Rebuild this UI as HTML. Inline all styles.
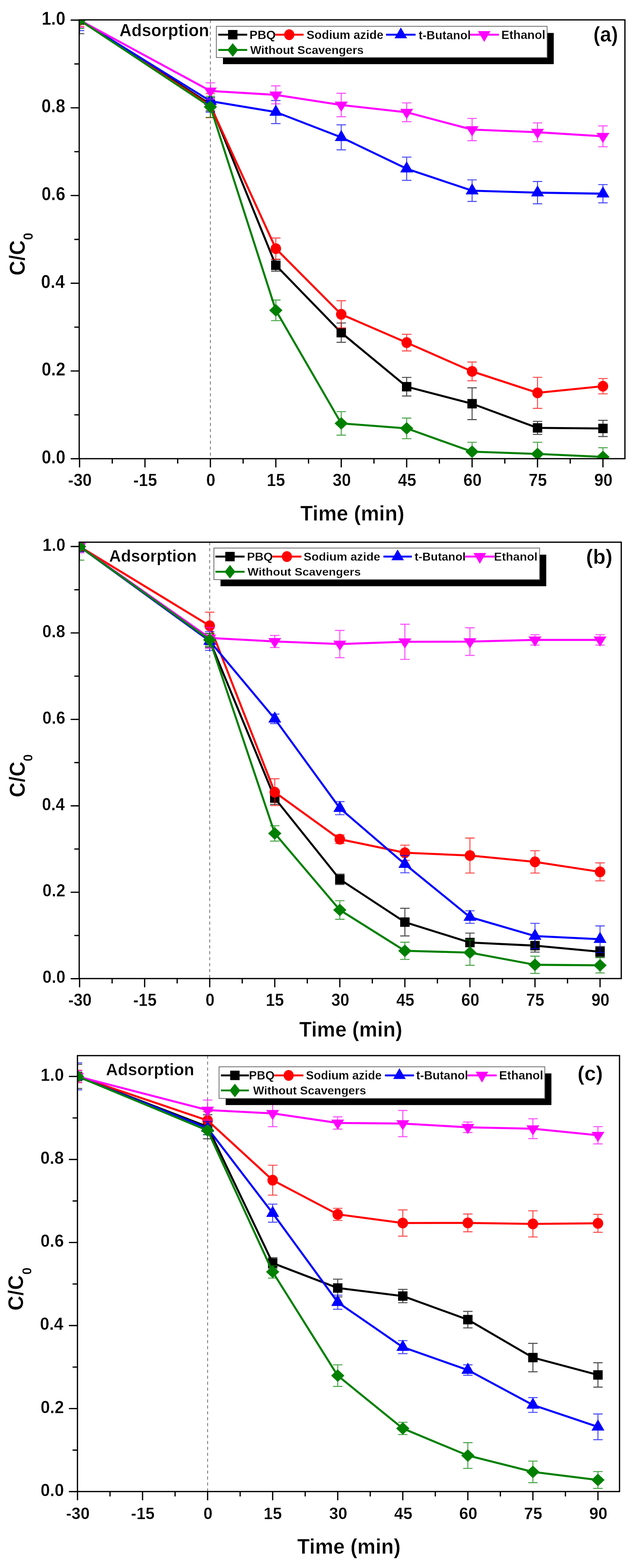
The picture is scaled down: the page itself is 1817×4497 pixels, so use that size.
<!DOCTYPE html><html><head><meta charset="utf-8"><style>html,body{margin:0;padding:0;background:#fff}svg{display:block}text{font-family:"Liberation Sans",Arial,sans-serif;font-weight:bold;fill:#000;stroke:#fff}</style></head><body>
<svg width="1817" height="4497" viewBox="0 0 1817 4497">
<rect width="1817" height="4497" fill="#fff"/>
<clipPath id="clipa"><rect x="227" y="57" width="1564" height="1258.5"/></clipPath>
<line x1="603" y1="57" x2="603" y2="1315.5" stroke="#6e6e6e" stroke-width="2.2" stroke-dasharray="9 8"/>
<g clip-path="url(#clipa)">
<polyline points="228,57.6 603,299.14 790.5,760.82 978,954.05 1165.5,1109.04 1353,1157.85 1540.5,1227.16 1728,1228.8" fill="none" stroke="#000000" stroke-width="5.8" stroke-linejoin="round"/>
<path d="M228,18.6V96.6M214.5,18.6H241.5M214.5,96.6H241.5" stroke="#000000" stroke-opacity="0.7" stroke-width="2.9" fill="none"/>
<path d="M603,280.27V318.01M589.5,280.27H616.5M589.5,318.01H616.5" stroke="#000000" stroke-opacity="0.7" stroke-width="2.9" fill="none"/>
<path d="M790.5,743.84V777.8M777,743.84H804M777,777.8H804" stroke="#000000" stroke-opacity="0.7" stroke-width="2.9" fill="none"/>
<path d="M978,926.37V981.73M964.5,926.37H991.5M964.5,981.73H991.5" stroke="#000000" stroke-opacity="0.7" stroke-width="2.9" fill="none"/>
<path d="M1165.5,1082.37V1135.71M1152,1082.37H1179M1152,1135.71H1179" stroke="#000000" stroke-opacity="0.7" stroke-width="2.9" fill="none"/>
<path d="M1353,1112.18V1203.51M1339.5,1112.18H1366.5M1339.5,1203.51H1366.5" stroke="#000000" stroke-opacity="0.7" stroke-width="2.9" fill="none"/>
<path d="M1540.5,1208.42V1245.91M1527,1208.42H1554M1527,1245.91H1554" stroke="#000000" stroke-opacity="0.7" stroke-width="2.9" fill="none"/>
<path d="M1728,1205.52V1252.07M1714.5,1205.52H1741.5M1714.5,1252.07H1741.5" stroke="#000000" stroke-opacity="0.7" stroke-width="2.9" fill="none"/>
<rect x="214.5" y="44.1" width="27" height="27" fill="#000000"/>
<rect x="589.5" y="285.64" width="27" height="27" fill="#000000"/>
<rect x="777" y="747.32" width="27" height="27" fill="#000000"/>
<rect x="964.5" y="940.55" width="27" height="27" fill="#000000"/>
<rect x="1152" y="1095.54" width="27" height="27" fill="#000000"/>
<rect x="1339.5" y="1144.35" width="27" height="27" fill="#000000"/>
<rect x="1527" y="1213.66" width="27" height="27" fill="#000000"/>
<rect x="1714.5" y="1215.3" width="27" height="27" fill="#000000"/>
<polyline points="228,57.6 603,302.91 790.5,713.14 978,901.47 1165.5,982.61 1353,1065.13 1540.5,1126.65 1728,1107.65" fill="none" stroke="#ff0000" stroke-width="5.8" stroke-linejoin="round"/>
<path d="M228,39.61V75.59M214.5,39.61H241.5M214.5,75.59H241.5" stroke="#ff0000" stroke-opacity="0.7" stroke-width="2.9" fill="none"/>
<path d="M603,268.31V337.5M589.5,268.31H616.5M589.5,337.5H616.5" stroke="#ff0000" stroke-opacity="0.7" stroke-width="2.9" fill="none"/>
<path d="M790.5,682.57V743.71M777,682.57H804M777,743.71H804" stroke="#ff0000" stroke-opacity="0.7" stroke-width="2.9" fill="none"/>
<path d="M978,862.47V940.46M964.5,862.47H991.5M964.5,940.46H991.5" stroke="#ff0000" stroke-opacity="0.7" stroke-width="2.9" fill="none"/>
<path d="M1165.5,958.71V1006.51M1152,958.71H1179M1152,1006.51H1179" stroke="#ff0000" stroke-opacity="0.7" stroke-width="2.9" fill="none"/>
<path d="M1353,1038.21V1092.05M1339.5,1038.21H1366.5M1339.5,1092.05H1366.5" stroke="#ff0000" stroke-opacity="0.7" stroke-width="2.9" fill="none"/>
<path d="M1540.5,1082.12V1171.18M1527,1082.12H1554M1527,1171.18H1554" stroke="#ff0000" stroke-opacity="0.7" stroke-width="2.9" fill="none"/>
<path d="M1728,1085.64V1129.67M1714.5,1085.64H1741.5M1714.5,1129.67H1741.5" stroke="#ff0000" stroke-opacity="0.7" stroke-width="2.9" fill="none"/>
<ellipse cx="228" cy="57.6" rx="15" ry="15.5" fill="#ff0000"/>
<ellipse cx="603" cy="302.91" rx="15" ry="15.5" fill="#ff0000"/>
<ellipse cx="790.5" cy="713.14" rx="15" ry="15.5" fill="#ff0000"/>
<ellipse cx="978" cy="901.47" rx="15" ry="15.5" fill="#ff0000"/>
<ellipse cx="1165.5" cy="982.61" rx="15" ry="15.5" fill="#ff0000"/>
<ellipse cx="1353" cy="1065.13" rx="15" ry="15.5" fill="#ff0000"/>
<ellipse cx="1540.5" cy="1126.65" rx="15" ry="15.5" fill="#ff0000"/>
<ellipse cx="1728" cy="1107.65" rx="15" ry="15.5" fill="#ff0000"/>
<polyline points="228,57.6 603,290.08 790.5,321.4 978,393.86 1165.5,483.94 1353,546.84 1540.5,552.5 1728,555.52" fill="none" stroke="#0000ff" stroke-width="5.8" stroke-linejoin="round"/>
<path d="M228,27.41V87.79M214.5,27.41H241.5M214.5,87.79H241.5" stroke="#0000ff" stroke-opacity="0.7" stroke-width="2.9" fill="none"/>
<path d="M603,258.38V321.78M589.5,258.38H616.5M589.5,321.78H616.5" stroke="#0000ff" stroke-opacity="0.7" stroke-width="2.9" fill="none"/>
<path d="M790.5,288.32V354.49M777,288.32H804M777,354.49H804" stroke="#0000ff" stroke-opacity="0.7" stroke-width="2.9" fill="none"/>
<path d="M978,358.01V429.72M964.5,358.01H991.5M964.5,429.72H991.5" stroke="#0000ff" stroke-opacity="0.7" stroke-width="2.9" fill="none"/>
<path d="M1165.5,450.6V517.27M1152,450.6H1179M1152,517.27H1179" stroke="#0000ff" stroke-opacity="0.7" stroke-width="2.9" fill="none"/>
<path d="M1353,515.89V577.78M1339.5,515.89H1366.5M1339.5,577.78H1366.5" stroke="#0000ff" stroke-opacity="0.7" stroke-width="2.9" fill="none"/>
<path d="M1540.5,520.54V584.45M1527,520.54H1554M1527,584.45H1554" stroke="#0000ff" stroke-opacity="0.7" stroke-width="2.9" fill="none"/>
<path d="M1728,529.35V581.68M1714.5,529.35H1741.5M1714.5,581.68H1741.5" stroke="#0000ff" stroke-opacity="0.7" stroke-width="2.9" fill="none"/>
<polygon points="209.5,68.27 246.5,68.27 228,36.27" fill="#0000ff"/>
<polygon points="584.5,300.75 621.5,300.75 603,268.75" fill="#0000ff"/>
<polygon points="772,332.07 809,332.07 790.5,300.07" fill="#0000ff"/>
<polygon points="959.5,404.53 996.5,404.53 978,372.53" fill="#0000ff"/>
<polygon points="1147,494.6 1184,494.6 1165.5,462.6" fill="#0000ff"/>
<polygon points="1334.5,557.5 1371.5,557.5 1353,525.5" fill="#0000ff"/>
<polygon points="1522,563.16 1559,563.16 1540.5,531.16" fill="#0000ff"/>
<polygon points="1709.5,566.18 1746.5,566.18 1728,534.18" fill="#0000ff"/>
<polyline points="228,57.6 603,260.89 790.5,272.09 978,301.15 1165.5,322.03 1353,371.6 1540.5,379.27 1728,390.97" fill="none" stroke="#ff00ff" stroke-width="5.8" stroke-linejoin="round"/>
<path d="M228,36.59V78.61M214.5,36.59H241.5M214.5,78.61H241.5" stroke="#ff00ff" stroke-opacity="0.7" stroke-width="2.9" fill="none"/>
<path d="M603,237.62V284.17M589.5,237.62H616.5M589.5,284.17H616.5" stroke="#ff00ff" stroke-opacity="0.7" stroke-width="2.9" fill="none"/>
<path d="M790.5,246.3V297.88M777,246.3H804M777,297.88H804" stroke="#ff00ff" stroke-opacity="0.7" stroke-width="2.9" fill="none"/>
<path d="M978,267.56V334.74M964.5,267.56H991.5M964.5,334.74H991.5" stroke="#ff00ff" stroke-opacity="0.7" stroke-width="2.9" fill="none"/>
<path d="M1165.5,295.11V348.95M1152,295.11H1179M1152,348.95H1179" stroke="#ff00ff" stroke-opacity="0.7" stroke-width="2.9" fill="none"/>
<path d="M1353,339.64V403.55M1339.5,339.64H1366.5M1339.5,403.55H1366.5" stroke="#ff00ff" stroke-opacity="0.7" stroke-width="2.9" fill="none"/>
<path d="M1540.5,352.35V406.19M1527,352.35H1554M1527,406.19H1554" stroke="#ff00ff" stroke-opacity="0.7" stroke-width="2.9" fill="none"/>
<path d="M1728,361.03V420.91M1714.5,361.03H1741.5M1714.5,420.91H1741.5" stroke="#ff00ff" stroke-opacity="0.7" stroke-width="2.9" fill="none"/>
<polygon points="209.5,47.93 246.5,47.93 228,76.93" fill="#ff00ff"/>
<polygon points="584.5,251.23 621.5,251.23 603,280.23" fill="#ff00ff"/>
<polygon points="772,262.42 809,262.42 790.5,291.42" fill="#ff00ff"/>
<polygon points="959.5,291.48 996.5,291.48 978,320.48" fill="#ff00ff"/>
<polygon points="1147,312.36 1184,312.36 1165.5,341.36" fill="#ff00ff"/>
<polygon points="1334.5,361.93 1371.5,361.93 1353,390.93" fill="#ff00ff"/>
<polygon points="1522,369.6 1559,369.6 1540.5,398.6" fill="#ff00ff"/>
<polygon points="1709.5,381.3 1746.5,381.3 1728,410.3" fill="#ff00ff"/>
<polyline points="228,57.6 603,306.43 790.5,890.02 978,1214.33 1165.5,1228.55 1353,1295.47 1540.5,1301.89 1728,1310.44" fill="none" stroke="#008000" stroke-width="5.8" stroke-linejoin="round"/>
<path d="M228,33.7V81.5M214.5,33.7H241.5M214.5,81.5H241.5" stroke="#008000" stroke-opacity="0.7" stroke-width="2.9" fill="none"/>
<path d="M603,276.24V336.62M589.5,276.24H616.5M589.5,336.62H616.5" stroke="#008000" stroke-opacity="0.7" stroke-width="2.9" fill="none"/>
<path d="M790.5,860.46V919.58M777,860.46H804M777,919.58H804" stroke="#008000" stroke-opacity="0.7" stroke-width="2.9" fill="none"/>
<path d="M978,1180.62V1248.05M964.5,1180.62H991.5M964.5,1248.05H991.5" stroke="#008000" stroke-opacity="0.7" stroke-width="2.9" fill="none"/>
<path d="M1165.5,1198.98V1258.11M1152,1198.98H1179M1152,1258.11H1179" stroke="#008000" stroke-opacity="0.7" stroke-width="2.9" fill="none"/>
<path d="M1353,1268.42V1322.52M1339.5,1268.42H1366.5M1339.5,1322.52H1366.5" stroke="#008000" stroke-opacity="0.7" stroke-width="2.9" fill="none"/>
<path d="M1540.5,1268.42V1335.35M1527,1268.42H1554M1527,1335.35H1554" stroke="#008000" stroke-opacity="0.7" stroke-width="2.9" fill="none"/>
<path d="M1728,1284.02V1336.86M1714.5,1284.02H1741.5M1714.5,1336.86H1741.5" stroke="#008000" stroke-opacity="0.7" stroke-width="2.9" fill="none"/>
<polygon points="209,57.6 228,39.6 247,57.6 228,75.6" fill="#008000"/>
<polygon points="584,306.43 603,288.43 622,306.43 603,324.43" fill="#008000"/>
<polygon points="771.5,890.02 790.5,872.02 809.5,890.02 790.5,908.02" fill="#008000"/>
<polygon points="959,1214.33 978,1196.33 997,1214.33 978,1232.33" fill="#008000"/>
<polygon points="1146.5,1228.55 1165.5,1210.55 1184.5,1228.55 1165.5,1246.55" fill="#008000"/>
<polygon points="1334,1295.47 1353,1277.47 1372,1295.47 1353,1313.47" fill="#008000"/>
<polygon points="1521.5,1301.89 1540.5,1283.89 1559.5,1301.89 1540.5,1319.89" fill="#008000"/>
<polygon points="1709,1310.44 1728,1292.44 1747,1310.44 1728,1328.44" fill="#008000"/>
</g>
<rect x="227" y="57" width="1564" height="1258.5" fill="none" stroke="#000" stroke-width="3.6"/>
<path d="M228,1315.5v25M321.75,1315.5v14M415.5,1315.5v25M509.25,1315.5v14M603,1315.5v25M696.75,1315.5v14M790.5,1315.5v25M884.25,1315.5v14M978,1315.5v25M1071.75,1315.5v14M1165.5,1315.5v25M1259.25,1315.5v14M1353,1315.5v25M1446.75,1315.5v14M1540.5,1315.5v25M1634.25,1315.5v14M1728,1315.5v25M227,1315.6h-24.5M227,1189.8h-14M227,1064h-24.5M227,938.2h-14M227,812.4h-24.5M227,686.6h-14M227,560.8h-24.5M227,435h-14M227,309.2h-24.5M227,183.4h-14M227,57.6h-24.5" stroke="#000" stroke-width="3.6" fill="none"/>
<g>
<text transform="translate(194.93,1393.6) scale(0.9300,1)" font-size="50.7" stroke-width="0.61">-30</text>
<text transform="translate(382.08,1393.6) scale(0.9300,1)" font-size="50.7" stroke-width="0.61">-15</text>
<text transform="translate(590.91,1393.6) scale(0.9300,1)" font-size="50.7" stroke-width="0.61">0</text>
<text transform="translate(764.5,1393.6) scale(0.9300,1)" font-size="50.7" stroke-width="0.61">15</text>
<text transform="translate(953.18,1393.6) scale(0.9300,1)" font-size="50.7" stroke-width="0.61">30</text>
<text transform="translate(1140.56,1393.6) scale(0.9300,1)" font-size="50.7" stroke-width="0.61">45</text>
<text transform="translate(1327.95,1393.6) scale(0.9300,1)" font-size="50.7" stroke-width="0.61">60</text>
<text transform="translate(1514.98,1393.6) scale(0.9300,1)" font-size="50.7" stroke-width="0.61">75</text>
<text transform="translate(1702.95,1393.6) scale(0.9300,1)" font-size="50.7" stroke-width="0.61">90</text>
<text transform="translate(119.19,1328.7) scale(0.9300,1)" font-size="52.82" stroke-width="0.63">0.0</text>
<text transform="translate(119.19,1077.1) scale(0.9300,1)" font-size="52.82" stroke-width="0.63">0.2</text>
<text transform="translate(117.47,825.5) scale(0.9300,1)" font-size="52.82" stroke-width="0.63">0.4</text>
<text transform="translate(118.94,573.9) scale(0.9300,1)" font-size="52.82" stroke-width="0.63">0.6</text>
<text transform="translate(118.7,322.3) scale(0.9300,1)" font-size="52.82" stroke-width="0.63">0.8</text>
<text transform="translate(119.19,70.7) scale(0.9300,1)" font-size="52.82" stroke-width="0.63">1.0</text>
</g>
<text transform="translate(342.19,104) scale(0.9698,1)" font-size="49.72" stroke-width="0.60">Adsorption</text>
<text transform="translate(1700.5,119) scale(0.9549,1)" font-size="60.69" stroke-width="0.73">(a)</text>
<text transform="translate(860.61,1492.5) scale(0.9605,1)" font-size="61.66" stroke-width="0.74">Time (min)</text>
<text transform="translate(70.7,790.36) rotate(-90) scale(0.9397,1)" font-size="62.76" stroke-width="0.75">C/C</text>
<text transform="translate(93.6,688.52) rotate(-90) scale(0.9972,1)" font-size="38" stroke-width="0.46">0</text>
<rect x="639" y="94.5" width="948" height="89.5" fill="#000"/>
<rect x="620" y="75.5" width="948" height="89.5" fill="#fff" stroke="#666" stroke-width="2.2"/>
<line x1="625.6" y1="99.5" x2="708.5" y2="99.5" stroke="#000000" stroke-width="5.4"/>
<rect x="653.55" y="86" width="27" height="27" fill="#000000"/>
<line x1="788" y1="99.5" x2="870" y2="99.5" stroke="#ff0000" stroke-width="5.4"/>
<ellipse cx="829" cy="99.5" rx="14.5" ry="15.5" fill="#ff0000"/>
<line x1="1106.4" y1="99.5" x2="1191" y2="99.5" stroke="#0000ff" stroke-width="5.4"/>
<polygon points="1130.7,109.83 1166.7,109.83 1148.7,78.83" fill="#0000ff"/>
<line x1="1345.6" y1="99.5" x2="1429.8" y2="99.5" stroke="#ff00ff" stroke-width="5.4"/>
<polygon points="1369.7,89.17 1405.7,89.17 1387.7,120.17" fill="#ff00ff"/>
<line x1="625.6" y1="143.2" x2="708.5" y2="143.2" stroke="#008000" stroke-width="5.4"/>
<polygon points="651.55,143.2 667.05,123.7 682.55,143.2 667.05,162.7" fill="#008000"/>
<text transform="translate(714.63,112) scale(0.9917,1)" font-size="35.2" stroke-width="0.42">PBQ</text>
<text transform="translate(878.58,112) scale(0.9704,1)" font-size="35.2" stroke-width="0.42">Sodium azide</text>
<text transform="translate(1199.66,112.5) scale(0.9577,1)" font-size="35.61" stroke-width="0.43">t-Butanol</text>
<text transform="translate(1436.66,112) scale(0.9682,1)" font-size="35.61" stroke-width="0.43">Ethanol</text>
<text transform="translate(716.9,154.5) scale(1.0109,1)" font-size="33.52" stroke-width="0.40">Without Scavengers</text>
<clipPath id="clipb"><rect x="227" y="1555" width="1553.5" height="1251.5"/></clipPath>
<line x1="601" y1="1555" x2="601" y2="2806.5" stroke="#6e6e6e" stroke-width="2.2" stroke-dasharray="9 8"/>
<g clip-path="url(#clipb)">
<polyline points="228.1,1567.4 601,1836.87 787.45,2289.04 973.9,2521.94 1160.35,2644.65 1346.8,2703.15 1533.25,2712.08 1719.7,2729.56" fill="none" stroke="#000000" stroke-width="5.8" stroke-linejoin="round"/>
<path d="M228.1,1552.53V1582.27M214.6,1552.53H241.6M214.6,1582.27H241.6" stroke="#000000" stroke-opacity="0.7" stroke-width="2.9" fill="none"/>
<path d="M601,1817.04V1856.7M587.5,1817.04H614.5M587.5,1856.7H614.5" stroke="#000000" stroke-opacity="0.7" stroke-width="2.9" fill="none"/>
<path d="M787.45,2271.06V2307.01M773.95,2271.06H800.95M773.95,2307.01H800.95" stroke="#000000" stroke-opacity="0.7" stroke-width="2.9" fill="none"/>
<path d="M973.9,2507.06V2536.81M960.4,2507.06H987.4M960.4,2536.81H987.4" stroke="#000000" stroke-opacity="0.7" stroke-width="2.9" fill="none"/>
<path d="M1160.35,2604.99V2684.31M1146.85,2604.99H1173.85M1146.85,2684.31H1173.85" stroke="#000000" stroke-opacity="0.7" stroke-width="2.9" fill="none"/>
<path d="M1346.8,2676.13V2730.17M1333.3,2676.13H1360.3M1333.3,2730.17H1360.3" stroke="#000000" stroke-opacity="0.7" stroke-width="2.9" fill="none"/>
<path d="M1533.25,2693.49V2730.67M1519.75,2693.49H1546.75M1519.75,2730.67H1546.75" stroke="#000000" stroke-opacity="0.7" stroke-width="2.9" fill="none"/>
<path d="M1719.7,2714.68V2744.43M1706.2,2714.68H1733.2M1706.2,2744.43H1733.2" stroke="#000000" stroke-opacity="0.7" stroke-width="2.9" fill="none"/>
<rect x="214.6" y="1553.9" width="27" height="27" fill="#000000"/>
<rect x="587.5" y="1823.37" width="27" height="27" fill="#000000"/>
<rect x="773.95" y="2275.54" width="27" height="27" fill="#000000"/>
<rect x="960.4" y="2508.44" width="27" height="27" fill="#000000"/>
<rect x="1146.85" y="2631.15" width="27" height="27" fill="#000000"/>
<rect x="1333.3" y="2689.65" width="27" height="27" fill="#000000"/>
<rect x="1519.75" y="2698.58" width="27" height="27" fill="#000000"/>
<rect x="1706.2" y="2716.06" width="27" height="27" fill="#000000"/>
<polyline points="228.1,1567.4 601,1794.72 787.45,2271.93 973.9,2406.79 1160.35,2445.71 1346.8,2453.64 1533.25,2471.86 1719.7,2500.5" fill="none" stroke="#ff0000" stroke-width="5.8" stroke-linejoin="round"/>
<path d="M228.1,1554.39V1580.41M214.6,1554.39H241.6M214.6,1580.41H241.6" stroke="#ff0000" stroke-opacity="0.7" stroke-width="2.9" fill="none"/>
<path d="M601,1755.68V1833.77M587.5,1755.68H614.5M587.5,1833.77H614.5" stroke="#ff0000" stroke-opacity="0.7" stroke-width="2.9" fill="none"/>
<path d="M787.45,2233.51V2310.36M773.95,2233.51H800.95M773.95,2310.36H800.95" stroke="#ff0000" stroke-opacity="0.7" stroke-width="2.9" fill="none"/>
<path d="M973.9,2394.39V2419.18M960.4,2394.39H987.4M960.4,2419.18H987.4" stroke="#ff0000" stroke-opacity="0.7" stroke-width="2.9" fill="none"/>
<path d="M1160.35,2423.89V2467.52M1146.85,2423.89H1173.85M1146.85,2467.52H1173.85" stroke="#ff0000" stroke-opacity="0.7" stroke-width="2.9" fill="none"/>
<path d="M1346.8,2403.44V2503.84M1333.3,2403.44H1360.3M1333.3,2503.84H1360.3" stroke="#ff0000" stroke-opacity="0.7" stroke-width="2.9" fill="none"/>
<path d="M1533.25,2439.88V2503.84M1519.75,2439.88H1546.75M1519.75,2503.84H1546.75" stroke="#ff0000" stroke-opacity="0.7" stroke-width="2.9" fill="none"/>
<path d="M1719.7,2474.71V2526.28M1706.2,2474.71H1733.2M1706.2,2526.28H1733.2" stroke="#ff0000" stroke-opacity="0.7" stroke-width="2.9" fill="none"/>
<ellipse cx="228.1" cy="1567.4" rx="15" ry="15.5" fill="#ff0000"/>
<ellipse cx="601" cy="1794.72" rx="15" ry="15.5" fill="#ff0000"/>
<ellipse cx="787.45" cy="2271.93" rx="15" ry="15.5" fill="#ff0000"/>
<ellipse cx="973.9" cy="2406.79" rx="15" ry="15.5" fill="#ff0000"/>
<ellipse cx="1160.35" cy="2445.71" rx="15" ry="15.5" fill="#ff0000"/>
<ellipse cx="1346.8" cy="2453.64" rx="15" ry="15.5" fill="#ff0000"/>
<ellipse cx="1533.25" cy="2471.86" rx="15" ry="15.5" fill="#ff0000"/>
<ellipse cx="1719.7" cy="2500.5" rx="15" ry="15.5" fill="#ff0000"/>
<polyline points="228.1,1567.4 601,1838.48 787.45,2061.59 973.9,2317.79 1160.35,2478.31 1346.8,2630.15 1533.25,2684.56 1719.7,2693.61" fill="none" stroke="#0000ff" stroke-width="5.8" stroke-linejoin="round"/>
<path d="M228.1,1552.53V1582.27M214.6,1552.53H241.6M214.6,1582.27H241.6" stroke="#0000ff" stroke-opacity="0.7" stroke-width="2.9" fill="none"/>
<path d="M601,1811.58V1865.38M587.5,1811.58H614.5M587.5,1865.38H614.5" stroke="#0000ff" stroke-opacity="0.7" stroke-width="2.9" fill="none"/>
<path d="M787.45,2047.95V2075.22M773.95,2047.95H800.95M773.95,2075.22H800.95" stroke="#0000ff" stroke-opacity="0.7" stroke-width="2.9" fill="none"/>
<path d="M973.9,2298.95V2336.63M960.4,2298.95H987.4M960.4,2336.63H987.4" stroke="#0000ff" stroke-opacity="0.7" stroke-width="2.9" fill="none"/>
<path d="M1160.35,2453.52V2503.1M1146.85,2453.52H1173.85M1146.85,2503.1H1173.85" stroke="#0000ff" stroke-opacity="0.7" stroke-width="2.9" fill="none"/>
<path d="M1346.8,2612.17V2648.12M1333.3,2612.17H1360.3M1333.3,2648.12H1360.3" stroke="#0000ff" stroke-opacity="0.7" stroke-width="2.9" fill="none"/>
<path d="M1533.25,2648.12V2721M1519.75,2648.12H1546.75M1519.75,2721H1546.75" stroke="#0000ff" stroke-opacity="0.7" stroke-width="2.9" fill="none"/>
<path d="M1719.7,2655.56V2731.66M1706.2,2655.56H1733.2M1706.2,2731.66H1733.2" stroke="#0000ff" stroke-opacity="0.7" stroke-width="2.9" fill="none"/>
<polygon points="209.6,1578.07 246.6,1578.07 228.1,1546.07" fill="#0000ff"/>
<polygon points="582.5,1849.15 619.5,1849.15 601,1817.15" fill="#0000ff"/>
<polygon points="768.95,2072.26 805.95,2072.26 787.45,2040.26" fill="#0000ff"/>
<polygon points="955.4,2328.46 992.4,2328.46 973.9,2296.46" fill="#0000ff"/>
<polygon points="1141.85,2488.98 1178.85,2488.98 1160.35,2456.98" fill="#0000ff"/>
<polygon points="1328.3,2640.81 1365.3,2640.81 1346.8,2608.81" fill="#0000ff"/>
<polygon points="1514.75,2695.23 1551.75,2695.23 1533.25,2663.23" fill="#0000ff"/>
<polygon points="1701.2,2704.28 1738.2,2704.28 1719.7,2672.28" fill="#0000ff"/>
<polyline points="228.1,1567.4 601,1829.68 787.45,1839.72 973.9,1847.16 1160.35,1840.71 1346.8,1840.09 1533.25,1835.26 1719.7,1835.26" fill="none" stroke="#ff00ff" stroke-width="5.8" stroke-linejoin="round"/>
<path d="M228.1,1549.06V1585.74M214.6,1549.06H241.6M214.6,1585.74H241.6" stroke="#ff00ff" stroke-opacity="0.7" stroke-width="2.9" fill="none"/>
<path d="M601,1799.68V1859.67M587.5,1799.68H614.5M587.5,1859.67H614.5" stroke="#ff00ff" stroke-opacity="0.7" stroke-width="2.9" fill="none"/>
<path d="M787.45,1822.37V1857.07M773.95,1822.37H800.95M773.95,1857.07H800.95" stroke="#ff00ff" stroke-opacity="0.7" stroke-width="2.9" fill="none"/>
<path d="M973.9,1807.99V1886.32M960.4,1807.99H987.4M960.4,1886.32H987.4" stroke="#ff00ff" stroke-opacity="0.7" stroke-width="2.9" fill="none"/>
<path d="M1160.35,1790.26V1891.16M1146.85,1790.26H1173.85M1146.85,1891.16H1173.85" stroke="#ff00ff" stroke-opacity="0.7" stroke-width="2.9" fill="none"/>
<path d="M1346.8,1800.43V1879.75M1333.3,1800.43H1360.3M1333.3,1879.75H1360.3" stroke="#ff00ff" stroke-opacity="0.7" stroke-width="2.9" fill="none"/>
<path d="M1533.25,1820.38V1850.13M1519.75,1820.38H1546.75M1519.75,1850.13H1546.75" stroke="#ff00ff" stroke-opacity="0.7" stroke-width="2.9" fill="none"/>
<path d="M1719.7,1820.38V1850.13M1706.2,1820.38H1733.2M1706.2,1850.13H1733.2" stroke="#ff00ff" stroke-opacity="0.7" stroke-width="2.9" fill="none"/>
<polygon points="209.6,1557.73 246.6,1557.73 228.1,1586.73" fill="#ff00ff"/>
<polygon points="582.5,1820.01 619.5,1820.01 601,1849.01" fill="#ff00ff"/>
<polygon points="768.95,1830.05 805.95,1830.05 787.45,1859.05" fill="#ff00ff"/>
<polygon points="955.4,1837.49 992.4,1837.49 973.9,1866.49" fill="#ff00ff"/>
<polygon points="1141.85,1831.04 1178.85,1831.04 1160.35,1860.04" fill="#ff00ff"/>
<polygon points="1328.3,1830.42 1365.3,1830.42 1346.8,1859.42" fill="#ff00ff"/>
<polygon points="1514.75,1825.59 1551.75,1825.59 1533.25,1854.59" fill="#ff00ff"/>
<polygon points="1701.2,1825.59 1738.2,1825.59 1719.7,1854.59" fill="#ff00ff"/>
<polyline points="228.1,1567.4 601,1835.13 787.45,2390.18 973.9,2609.82 1160.35,2726.95 1346.8,2732.03 1533.25,2766.99 1719.7,2768.48" fill="none" stroke="#008000" stroke-width="5.8" stroke-linejoin="round"/>
<path d="M228.1,1528.36V1606.44M214.6,1528.36H241.6M214.6,1606.44H241.6" stroke="#008000" stroke-opacity="0.7" stroke-width="2.9" fill="none"/>
<path d="M601,1816.79V1853.48M587.5,1816.79H614.5M587.5,1853.48H614.5" stroke="#008000" stroke-opacity="0.7" stroke-width="2.9" fill="none"/>
<path d="M787.45,2368.12V2412.24M773.95,2368.12H800.95M773.95,2412.24H800.95" stroke="#008000" stroke-opacity="0.7" stroke-width="2.9" fill="none"/>
<path d="M973.9,2583.17V2636.47M960.4,2583.17H987.4M960.4,2636.47H987.4" stroke="#008000" stroke-opacity="0.7" stroke-width="2.9" fill="none"/>
<path d="M1160.35,2702.29V2751.62M1146.85,2702.29H1173.85M1146.85,2751.62H1173.85" stroke="#008000" stroke-opacity="0.7" stroke-width="2.9" fill="none"/>
<path d="M1346.8,2695.59V2768.48M1333.3,2695.59H1360.3M1333.3,2768.48H1360.3" stroke="#008000" stroke-opacity="0.7" stroke-width="2.9" fill="none"/>
<path d="M1533.25,2742.2V2791.78M1519.75,2742.2H1546.75M1519.75,2791.78H1546.75" stroke="#008000" stroke-opacity="0.7" stroke-width="2.9" fill="none"/>
<path d="M1719.7,2746.54V2790.41M1706.2,2746.54H1733.2M1706.2,2790.41H1733.2" stroke="#008000" stroke-opacity="0.7" stroke-width="2.9" fill="none"/>
<polygon points="209.1,1567.4 228.1,1549.4 247.1,1567.4 228.1,1585.4" fill="#008000"/>
<polygon points="582,1835.13 601,1817.13 620,1835.13 601,1853.13" fill="#008000"/>
<polygon points="768.45,2390.18 787.45,2372.18 806.45,2390.18 787.45,2408.18" fill="#008000"/>
<polygon points="954.9,2609.82 973.9,2591.82 992.9,2609.82 973.9,2627.82" fill="#008000"/>
<polygon points="1141.35,2726.95 1160.35,2708.95 1179.35,2726.95 1160.35,2744.95" fill="#008000"/>
<polygon points="1327.8,2732.03 1346.8,2714.03 1365.8,2732.03 1346.8,2750.03" fill="#008000"/>
<polygon points="1514.25,2766.99 1533.25,2748.99 1552.25,2766.99 1533.25,2784.99" fill="#008000"/>
<polygon points="1700.7,2768.48 1719.7,2750.48 1738.7,2768.48 1719.7,2786.48" fill="#008000"/>
</g>
<rect x="227" y="1555" width="1553.5" height="1251.5" fill="none" stroke="#000" stroke-width="3.6"/>
<path d="M228.1,2806.5v25M321.32,2806.5v14M414.55,2806.5v25M507.77,2806.5v14M601,2806.5v25M694.23,2806.5v14M787.45,2806.5v25M880.67,2806.5v14M973.9,2806.5v25M1067.12,2806.5v14M1160.35,2806.5v25M1253.57,2806.5v14M1346.8,2806.5v25M1440.03,2806.5v14M1533.25,2806.5v25M1626.47,2806.5v14M1719.7,2806.5v25M227,2806.9h-24.5M227,2682.95h-14M227,2559h-24.5M227,2435.05h-14M227,2311.1h-24.5M227,2187.15h-14M227,2063.2h-24.5M227,1939.25h-14M227,1815.3h-24.5M227,1691.35h-14M227,1567.4h-24.5" stroke="#000" stroke-width="3.6" fill="none"/>
<g>
<text transform="translate(195.5,2885) scale(0.9300,1)" font-size="50" stroke-width="0.60">-30</text>
<text transform="translate(381.61,2885) scale(0.9300,1)" font-size="50" stroke-width="0.60">-15</text>
<text transform="translate(589.1,2885) scale(0.9300,1)" font-size="50" stroke-width="0.60">0</text>
<text transform="translate(761.83,2885) scale(0.9300,1)" font-size="50" stroke-width="0.60">15</text>
<text transform="translate(949.44,2885) scale(0.9300,1)" font-size="50" stroke-width="0.60">30</text>
<text transform="translate(1135.77,2885) scale(0.9300,1)" font-size="50" stroke-width="0.60">45</text>
<text transform="translate(1322.11,2885) scale(0.9300,1)" font-size="50" stroke-width="0.60">60</text>
<text transform="translate(1508.09,2885) scale(0.9300,1)" font-size="50" stroke-width="0.60">75</text>
<text transform="translate(1695.01,2885) scale(0.9300,1)" font-size="50" stroke-width="0.60">90</text>
<text transform="translate(121.84,2819.3) scale(0.9300,1)" font-size="50.7" stroke-width="0.61">0.0</text>
<text transform="translate(121.84,2571.4) scale(0.9300,1)" font-size="50.7" stroke-width="0.61">0.2</text>
<text transform="translate(120.19,2323.5) scale(0.9300,1)" font-size="50.7" stroke-width="0.61">0.4</text>
<text transform="translate(121.61,2075.6) scale(0.9300,1)" font-size="50.7" stroke-width="0.61">0.6</text>
<text transform="translate(121.37,1827.7) scale(0.9300,1)" font-size="50.7" stroke-width="0.61">0.8</text>
<text transform="translate(121.84,1579.8) scale(0.9300,1)" font-size="50.7" stroke-width="0.61">1.0</text>
</g>
<text transform="translate(312.82,1610.6) scale(0.9769,1)" font-size="48.18" stroke-width="0.58">Adsorption</text>
<text transform="translate(1679.53,1616.6) scale(0.9924,1)" font-size="59.86" stroke-width="0.72">(b)</text>
<text transform="translate(857.41,2972.6) scale(0.9499,1)" font-size="61.79" stroke-width="0.74">Time (min)</text>
<text transform="translate(70.7,2286.69) rotate(-90) scale(0.9503,1)" font-size="62.76" stroke-width="0.75">C/C</text>
<text transform="translate(93.3,2183.46) rotate(-90) scale(0.9959,1)" font-size="36.57" stroke-width="0.44">0</text>
<rect x="632" y="1590.8" width="933.5" height="90.5" fill="#000"/>
<rect x="613" y="1571.8" width="933.5" height="90.5" fill="#fff" stroke="#666" stroke-width="2.2"/>
<line x1="617.3" y1="1596.3" x2="700.9" y2="1596.3" stroke="#000000" stroke-width="5.4"/>
<rect x="645.6" y="1582.8" width="27" height="27" fill="#000000"/>
<line x1="780.6" y1="1596.3" x2="863.8" y2="1596.3" stroke="#ff0000" stroke-width="5.4"/>
<ellipse cx="822.2" cy="1596.3" rx="14.5" ry="15.5" fill="#ff0000"/>
<line x1="1098.9" y1="1596.3" x2="1180.3" y2="1596.3" stroke="#0000ff" stroke-width="5.4"/>
<polygon points="1121.6,1606.63 1157.6,1606.63 1139.6,1575.63" fill="#0000ff"/>
<line x1="1332.3" y1="1596.3" x2="1417.9" y2="1596.3" stroke="#ff00ff" stroke-width="5.4"/>
<polygon points="1357.1,1585.97 1393.1,1585.97 1375.1,1616.97" fill="#ff00ff"/>
<line x1="617.3" y1="1639.8" x2="700.9" y2="1639.8" stroke="#008000" stroke-width="5.4"/>
<polygon points="643.6,1639.8 659.1,1620.3 674.6,1639.8 659.1,1659.3" fill="#008000"/>
<text transform="translate(707.77,1608.4) scale(1.0442,1)" font-size="32.82" stroke-width="0.39">PBQ</text>
<text transform="translate(869.98,1608.4) scale(1.0387,1)" font-size="32.82" stroke-width="0.39">Sodium azide</text>
<text transform="translate(1188.27,1608.4) scale(1.0158,1)" font-size="32.82" stroke-width="0.39">t-Butanol</text>
<text transform="translate(1415.79,1608.4) scale(1.0360,1)" font-size="32.82" stroke-width="0.39">Ethanol</text>
<text transform="translate(709.3,1650.5) scale(1.0575,1)" font-size="31.98" stroke-width="0.38">Without Scavengers</text>
<clipPath id="clipc"><rect x="222" y="3027.5" width="1553.5" height="1250.1999999999998"/></clipPath>
<line x1="595" y1="3027.5" x2="595" y2="4277.7" stroke="#6e6e6e" stroke-width="2.2" stroke-dasharray="9 8"/>
<g clip-path="url(#clipc)">
<polyline points="222.1,3087.2 595,3231.51 781.45,3622.42 967.9,3693.98 1154.35,3717.08 1340.8,3784.71 1527.25,3893.54 1713.7,3943.31" fill="none" stroke="#000000" stroke-width="5.8" stroke-linejoin="round"/>
<path d="M222.1,3052.67V3121.73M208.6,3052.67H235.6M208.6,3121.73H235.6" stroke="#000000" stroke-opacity="0.7" stroke-width="2.9" fill="none"/>
<path d="M595,3196.98V3266.04M581.5,3196.98H608.5M581.5,3266.04H608.5" stroke="#000000" stroke-opacity="0.7" stroke-width="2.9" fill="none"/>
<path d="M781.45,3606.94V3637.9M767.95,3606.94H794.95M767.95,3637.9H794.95" stroke="#000000" stroke-opacity="0.7" stroke-width="2.9" fill="none"/>
<path d="M967.9,3668.62V3719.34M954.4,3668.62H981.4M954.4,3719.34H981.4" stroke="#000000" stroke-opacity="0.7" stroke-width="2.9" fill="none"/>
<path d="M1154.35,3698.03V3736.13M1140.85,3698.03H1167.85M1140.85,3736.13H1167.85" stroke="#000000" stroke-opacity="0.7" stroke-width="2.9" fill="none"/>
<path d="M1340.8,3761.02V3808.41M1327.3,3761.02H1354.3M1327.3,3808.41H1354.3" stroke="#000000" stroke-opacity="0.7" stroke-width="2.9" fill="none"/>
<path d="M1527.25,3852.82V3934.26M1513.75,3852.82H1540.75M1513.75,3934.26H1540.75" stroke="#000000" stroke-opacity="0.7" stroke-width="2.9" fill="none"/>
<path d="M1713.7,3908.31V3978.32M1700.2,3908.31H1727.2M1700.2,3978.32H1727.2" stroke="#000000" stroke-opacity="0.7" stroke-width="2.9" fill="none"/>
<rect x="208.6" y="3073.7" width="27" height="27" fill="#000000"/>
<rect x="581.5" y="3218.01" width="27" height="27" fill="#000000"/>
<rect x="767.95" y="3608.92" width="27" height="27" fill="#000000"/>
<rect x="954.4" y="3680.48" width="27" height="27" fill="#000000"/>
<rect x="1140.85" y="3703.58" width="27" height="27" fill="#000000"/>
<rect x="1327.3" y="3771.21" width="27" height="27" fill="#000000"/>
<rect x="1513.75" y="3880.04" width="27" height="27" fill="#000000"/>
<rect x="1700.2" y="3929.81" width="27" height="27" fill="#000000"/>
<polyline points="222.1,3087.2 595,3213.41 781.45,3384.76 967.9,3482.75 1154.35,3507.64 1340.8,3507.28 1527.25,3510.14 1713.7,3508.47" fill="none" stroke="#ff0000" stroke-width="5.8" stroke-linejoin="round"/>
<path d="M222.1,3069.34V3105.06M208.6,3069.34H235.6M208.6,3105.06H235.6" stroke="#ff0000" stroke-opacity="0.7" stroke-width="2.9" fill="none"/>
<path d="M595,3187.93V3238.9M581.5,3187.93H608.5M581.5,3238.9H608.5" stroke="#ff0000" stroke-opacity="0.7" stroke-width="2.9" fill="none"/>
<path d="M781.45,3341.89V3427.62M767.95,3341.89H794.95M767.95,3427.62H794.95" stroke="#ff0000" stroke-opacity="0.7" stroke-width="2.9" fill="none"/>
<path d="M967.9,3465.37V3500.13M954.4,3465.37H981.4M954.4,3500.13H981.4" stroke="#ff0000" stroke-opacity="0.7" stroke-width="2.9" fill="none"/>
<path d="M1154.35,3470.01V3545.26M1140.85,3470.01H1167.85M1140.85,3545.26H1167.85" stroke="#ff0000" stroke-opacity="0.7" stroke-width="2.9" fill="none"/>
<path d="M1340.8,3481.8V3532.76M1327.3,3481.8H1354.3M1327.3,3532.76H1354.3" stroke="#ff0000" stroke-opacity="0.7" stroke-width="2.9" fill="none"/>
<path d="M1527.25,3472.63V3547.64M1513.75,3472.63H1540.75M1513.75,3547.64H1540.75" stroke="#ff0000" stroke-opacity="0.7" stroke-width="2.9" fill="none"/>
<path d="M1713.7,3482.75V3534.19M1700.2,3482.75H1727.2M1700.2,3534.19H1727.2" stroke="#ff0000" stroke-opacity="0.7" stroke-width="2.9" fill="none"/>
<ellipse cx="222.1" cy="3087.2" rx="15" ry="15.5" fill="#ff0000"/>
<ellipse cx="595" cy="3213.41" rx="15" ry="15.5" fill="#ff0000"/>
<ellipse cx="781.45" cy="3384.76" rx="15" ry="15.5" fill="#ff0000"/>
<ellipse cx="967.9" cy="3482.75" rx="15" ry="15.5" fill="#ff0000"/>
<ellipse cx="1154.35" cy="3507.64" rx="15" ry="15.5" fill="#ff0000"/>
<ellipse cx="1340.8" cy="3507.28" rx="15" ry="15.5" fill="#ff0000"/>
<ellipse cx="1527.25" cy="3510.14" rx="15" ry="15.5" fill="#ff0000"/>
<ellipse cx="1713.7" cy="3508.47" rx="15" ry="15.5" fill="#ff0000"/>
<polyline points="222.1,3087.2 595,3235.44 781.45,3479.3 967.9,3734.82 1154.35,3863.54 1340.8,3929.26 1527.25,4029.4 1713.7,4092.15" fill="none" stroke="#0000ff" stroke-width="5.8" stroke-linejoin="round"/>
<path d="M222.1,3048.5V3125.9M208.6,3048.5H235.6M208.6,3125.9H235.6" stroke="#0000ff" stroke-opacity="0.7" stroke-width="2.9" fill="none"/>
<path d="M595,3216.39V3254.49M581.5,3216.39H608.5M581.5,3254.49H608.5" stroke="#0000ff" stroke-opacity="0.7" stroke-width="2.9" fill="none"/>
<path d="M781.45,3453.34V3505.25M767.95,3453.34H794.95M767.95,3505.25H794.95" stroke="#0000ff" stroke-opacity="0.7" stroke-width="2.9" fill="none"/>
<path d="M967.9,3714.58V3755.06M954.4,3714.58H981.4M954.4,3755.06H981.4" stroke="#0000ff" stroke-opacity="0.7" stroke-width="2.9" fill="none"/>
<path d="M1154.35,3844.84V3882.23M1140.85,3844.84H1167.85M1140.85,3882.23H1167.85" stroke="#0000ff" stroke-opacity="0.7" stroke-width="2.9" fill="none"/>
<path d="M1340.8,3914.26V3944.27M1327.3,3914.26H1354.3M1327.3,3944.27H1354.3" stroke="#0000ff" stroke-opacity="0.7" stroke-width="2.9" fill="none"/>
<path d="M1527.25,4008.21V4050.6M1513.75,4008.21H1540.75M1513.75,4050.6H1540.75" stroke="#0000ff" stroke-opacity="0.7" stroke-width="2.9" fill="none"/>
<path d="M1713.7,4055.24V4129.06M1700.2,4055.24H1727.2M1700.2,4129.06H1727.2" stroke="#0000ff" stroke-opacity="0.7" stroke-width="2.9" fill="none"/>
<polygon points="203.6,3097.87 240.6,3097.87 222.1,3065.87" fill="#0000ff"/>
<polygon points="576.5,3246.11 613.5,3246.11 595,3214.11" fill="#0000ff"/>
<polygon points="762.95,3489.96 799.95,3489.96 781.45,3457.96" fill="#0000ff"/>
<polygon points="949.4,3745.49 986.4,3745.49 967.9,3713.49" fill="#0000ff"/>
<polygon points="1135.85,3874.2 1172.85,3874.2 1154.35,3842.2" fill="#0000ff"/>
<polygon points="1322.3,3939.93 1359.3,3939.93 1340.8,3907.93" fill="#0000ff"/>
<polygon points="1508.75,4040.07 1545.75,4040.07 1527.25,4008.07" fill="#0000ff"/>
<polygon points="1695.2,4102.82 1732.2,4102.82 1713.7,4070.82" fill="#0000ff"/>
<polyline points="222.1,3087.2 595,3183.65 781.45,3193.17 967.9,3220.56 1154.35,3222.34 1340.8,3233.06 1527.25,3237.11 1713.7,3255.92" fill="none" stroke="#ff00ff" stroke-width="5.8" stroke-linejoin="round"/>
<path d="M222.1,3070.53V3103.87M208.6,3070.53H235.6M208.6,3103.87H235.6" stroke="#ff00ff" stroke-opacity="0.7" stroke-width="2.9" fill="none"/>
<path d="M595,3155.07V3212.22M581.5,3155.07H608.5M581.5,3212.22H608.5" stroke="#ff00ff" stroke-opacity="0.7" stroke-width="2.9" fill="none"/>
<path d="M781.45,3155.07V3231.27M767.95,3155.07H794.95M767.95,3231.27H794.95" stroke="#ff00ff" stroke-opacity="0.7" stroke-width="2.9" fill="none"/>
<path d="M967.9,3202.94V3238.18M954.4,3202.94H981.4M954.4,3238.18H981.4" stroke="#ff00ff" stroke-opacity="0.7" stroke-width="2.9" fill="none"/>
<path d="M1154.35,3184.72V3259.97M1140.85,3184.72H1167.85M1140.85,3259.97H1167.85" stroke="#ff00ff" stroke-opacity="0.7" stroke-width="2.9" fill="none"/>
<path d="M1340.8,3218.06V3248.06M1327.3,3218.06H1354.3M1327.3,3248.06H1354.3" stroke="#ff00ff" stroke-opacity="0.7" stroke-width="2.9" fill="none"/>
<path d="M1527.25,3208.65V3265.57M1513.75,3208.65H1540.75M1513.75,3265.57H1540.75" stroke="#ff00ff" stroke-opacity="0.7" stroke-width="2.9" fill="none"/>
<path d="M1713.7,3231.16V3280.69M1700.2,3231.16H1727.2M1700.2,3280.69H1727.2" stroke="#ff00ff" stroke-opacity="0.7" stroke-width="2.9" fill="none"/>
<polygon points="203.6,3077.53 240.6,3077.53 222.1,3106.53" fill="#ff00ff"/>
<polygon points="576.5,3173.98 613.5,3173.98 595,3202.98" fill="#ff00ff"/>
<polygon points="762.95,3183.51 799.95,3183.51 781.45,3212.51" fill="#ff00ff"/>
<polygon points="949.4,3210.89 986.4,3210.89 967.9,3239.89" fill="#ff00ff"/>
<polygon points="1135.85,3212.68 1172.85,3212.68 1154.35,3241.68" fill="#ff00ff"/>
<polygon points="1322.3,3223.39 1359.3,3223.39 1340.8,3252.39" fill="#ff00ff"/>
<polygon points="1508.75,3227.44 1545.75,3227.44 1527.25,3256.44" fill="#ff00ff"/>
<polygon points="1695.2,3246.26 1732.2,3246.26 1713.7,3275.26" fill="#ff00ff"/>
<polyline points="222.1,3087.2 595,3241.99 781.45,3647.78 967.9,3945.34 1154.35,4096.79 1340.8,4174.43 1527.25,4221.34 1713.7,4244.56" fill="none" stroke="#008000" stroke-width="5.8" stroke-linejoin="round"/>
<path d="M222.1,3075.29V3099.11M208.6,3075.29H235.6M208.6,3099.11H235.6" stroke="#008000" stroke-opacity="0.7" stroke-width="2.9" fill="none"/>
<path d="M595,3230.08V3253.9M581.5,3230.08H608.5M581.5,3253.9H608.5" stroke="#008000" stroke-opacity="0.7" stroke-width="2.9" fill="none"/>
<path d="M781.45,3629.92V3665.64M767.95,3629.92H794.95M767.95,3665.64H794.95" stroke="#008000" stroke-opacity="0.7" stroke-width="2.9" fill="none"/>
<path d="M967.9,3914.38V3976.3M954.4,3914.38H981.4M954.4,3976.3H981.4" stroke="#008000" stroke-opacity="0.7" stroke-width="2.9" fill="none"/>
<path d="M1154.35,4079.17V4114.42M1140.85,4079.17H1167.85M1140.85,4114.42H1167.85" stroke="#008000" stroke-opacity="0.7" stroke-width="2.9" fill="none"/>
<path d="M1340.8,4137.52V4211.34M1327.3,4137.52H1354.3M1327.3,4211.34H1354.3" stroke="#008000" stroke-opacity="0.7" stroke-width="2.9" fill="none"/>
<path d="M1527.25,4190.38V4252.3M1513.75,4190.38H1540.75M1513.75,4252.3H1540.75" stroke="#008000" stroke-opacity="0.7" stroke-width="2.9" fill="none"/>
<path d="M1713.7,4220.39V4268.73M1700.2,4220.39H1727.2M1700.2,4268.73H1727.2" stroke="#008000" stroke-opacity="0.7" stroke-width="2.9" fill="none"/>
<polygon points="203.1,3087.2 222.1,3069.2 241.1,3087.2 222.1,3105.2" fill="#008000"/>
<polygon points="576,3241.99 595,3223.99 614,3241.99 595,3259.99" fill="#008000"/>
<polygon points="762.45,3647.78 781.45,3629.78 800.45,3647.78 781.45,3665.78" fill="#008000"/>
<polygon points="948.9,3945.34 967.9,3927.34 986.9,3945.34 967.9,3963.34" fill="#008000"/>
<polygon points="1135.35,4096.79 1154.35,4078.79 1173.35,4096.79 1154.35,4114.79" fill="#008000"/>
<polygon points="1321.8,4174.43 1340.8,4156.43 1359.8,4174.43 1340.8,4192.43" fill="#008000"/>
<polygon points="1508.25,4221.34 1527.25,4203.34 1546.25,4221.34 1527.25,4239.34" fill="#008000"/>
<polygon points="1694.7,4244.56 1713.7,4226.56 1732.7,4244.56 1713.7,4262.56" fill="#008000"/>
</g>
<rect x="222" y="3027.5" width="1553.5" height="1250.1999999999998" fill="none" stroke="#000" stroke-width="3.6"/>
<path d="M222.1,4277.7v25M315.32,4277.7v14M408.55,4277.7v25M501.77,4277.7v14M595,4277.7v25M688.23,4277.7v14M781.45,4277.7v25M874.67,4277.7v14M967.9,4277.7v25M1061.12,4277.7v14M1154.35,4277.7v25M1247.57,4277.7v14M1340.8,4277.7v25M1434.03,4277.7v14M1527.25,4277.7v25M1620.47,4277.7v14M1713.7,4277.7v25M222,4277.9h-24.5M222,4158.83h-14M222,4039.76h-24.5M222,3920.69h-14M222,3801.62h-24.5M222,3682.55h-14M222,3563.48h-24.5M222,3444.41h-14M222,3325.34h-24.5M222,3206.27h-14M222,3087.2h-24.5" stroke="#000" stroke-width="3.6" fill="none"/>
<g>
<text transform="translate(189.22,4356.5) scale(0.9650,1)" font-size="48.59" stroke-width="0.58">-30</text>
<text transform="translate(375.32,4356.5) scale(0.9650,1)" font-size="48.59" stroke-width="0.58">-15</text>
<text transform="translate(582.99,4356.5) scale(0.9650,1)" font-size="48.59" stroke-width="0.58">0</text>
<text transform="translate(755.6,4356.5) scale(0.9650,1)" font-size="48.59" stroke-width="0.58">15</text>
<text transform="translate(943.23,4356.5) scale(0.9650,1)" font-size="48.59" stroke-width="0.58">30</text>
<text transform="translate(1129.56,4356.5) scale(0.9650,1)" font-size="48.59" stroke-width="0.58">45</text>
<text transform="translate(1315.89,4356.5) scale(0.9650,1)" font-size="48.59" stroke-width="0.58">60</text>
<text transform="translate(1501.87,4356.5) scale(0.9650,1)" font-size="48.59" stroke-width="0.58">75</text>
<text transform="translate(1688.79,4356.5) scale(0.9650,1)" font-size="48.59" stroke-width="0.58">90</text>
<text transform="translate(116.16,4290.7) scale(0.9650,1)" font-size="50" stroke-width="0.60">0.0</text>
<text transform="translate(116.16,4052.56) scale(0.9650,1)" font-size="50" stroke-width="0.60">0.2</text>
<text transform="translate(114.47,3814.42) scale(0.9650,1)" font-size="50" stroke-width="0.60">0.4</text>
<text transform="translate(115.92,3576.28) scale(0.9650,1)" font-size="50" stroke-width="0.60">0.6</text>
<text transform="translate(115.68,3338.14) scale(0.9650,1)" font-size="50" stroke-width="0.60">0.8</text>
<text transform="translate(116.16,3100) scale(0.9650,1)" font-size="50" stroke-width="0.60">1.0</text>
</g>
<text transform="translate(303.61,3083.6) scale(0.9931,1)" font-size="47.77" stroke-width="0.57">Adsorption</text>
<text transform="translate(1654.92,3098.6) scale(0.9918,1)" font-size="60.14" stroke-width="0.72">(c)</text>
<text transform="translate(851.81,4455.5) scale(0.9739,1)" font-size="60.41" stroke-width="0.72">Time (min)</text>
<text transform="translate(65.7,3758.67) rotate(-90) scale(0.9725,1)" font-size="60.83" stroke-width="0.73">C/C</text>
<text transform="translate(89.6,3655.46) rotate(-90) scale(0.9998,1)" font-size="36.43" stroke-width="0.44">0</text>
<rect x="646.8" y="3078.5" width="933.5" height="90.8" fill="#000"/>
<rect x="627.8" y="3059.5" width="933.5" height="90.8" fill="#fff" stroke="#666" stroke-width="2.2"/>
<line x1="633" y1="3084.2" x2="713.3" y2="3084.2" stroke="#000000" stroke-width="5.4"/>
<rect x="659.65" y="3070.7" width="27" height="27" fill="#000000"/>
<line x1="785.3" y1="3084.2" x2="869.4" y2="3084.2" stroke="#ff0000" stroke-width="5.4"/>
<ellipse cx="827.35" cy="3084.2" rx="14.5" ry="15.5" fill="#ff0000"/>
<line x1="1103.3" y1="3084.2" x2="1186.3" y2="3084.2" stroke="#0000ff" stroke-width="5.4"/>
<polygon points="1126.8,3094.53 1162.8,3094.53 1144.8,3063.53" fill="#0000ff"/>
<line x1="1339.3" y1="3084.2" x2="1423.4" y2="3084.2" stroke="#ff00ff" stroke-width="5.4"/>
<polygon points="1363.35,3073.87 1399.35,3073.87 1381.35,3104.87" fill="#ff00ff"/>
<line x1="633" y1="3127.4" x2="713.3" y2="3127.4" stroke="#008000" stroke-width="5.4"/>
<polygon points="657.65,3127.4 673.15,3107.9 688.65,3127.4 673.15,3146.9" fill="#008000"/>
<text transform="translate(713.4,3096.2) scale(0.9690,1)" font-size="34.92" stroke-width="0.42">PBQ</text>
<text transform="translate(876.69,3096.2) scale(0.9651,1)" font-size="34.92" stroke-width="0.42">Sodium azide</text>
<text transform="translate(1192.66,3096.2) scale(0.9722,1)" font-size="34.92" stroke-width="0.42">t-Butanol</text>
<text transform="translate(1430.46,3096.2) scale(0.9876,1)" font-size="34.92" stroke-width="0.42">Ethanol</text>
<text transform="translate(725.3,3139.4) scale(1.0192,1)" font-size="33.1" stroke-width="0.40">Without Scavengers</text>
</svg></body></html>
